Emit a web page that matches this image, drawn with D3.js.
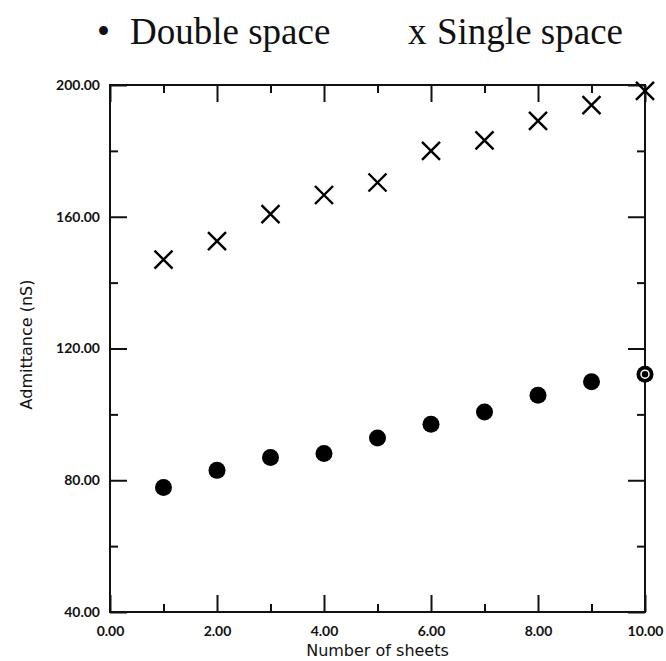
<!DOCTYPE html>
<html>
<head>
<meta charset="utf-8">
<script src="https://cdn.jsdelivr.net/npm/d3@7"></script>
<style>
  html, body { margin: 0; padding: 0; background: #fff; }
  svg { display: block; }
  .tick text { font-family: Lato, "DejaVu Sans", sans-serif; font-weight: 700; font-size: 14px; fill: #111; }
  .tick line { stroke: #111; stroke-width: 2; }
</style>
</head>
<body>
<svg id="chart" width="666" height="661"></svg>
<script>
// Number of sheets on the x axis
const sheets = [1, 2, 3, 4, 5, 6, 7, 8, 9, 10];
// Admittance (nS) for each spacing
const doubleSpace = [77.8, 83.0, 86.9, 88.1, 92.8, 97.0, 100.7, 105.8, 109.9, 112.2];
const singleSpace = [147.0, 152.6, 160.8, 166.6, 170.4, 180.0, 183.2, 189.1, 193.9, 198.2];
// Axis ticks
const xMajorTicks = [0, 2, 4, 6, 8, 10];
const xMinorTicks = [1, 3, 5, 7, 9];
const yMajorTicks = [40, 80, 120, 160, 200];
const yMinorTicks = [60, 100, 140, 180];
const seriesNames = ["Double space", "Single space"];

const svg = d3.select("#chart");
const margin = { left: 110, right: 21, top: 85, bottom: 49 };
const W = 666, H = 661;
const x = d3.scaleLinear().domain([0, 10]).range([margin.left, W - margin.right]);
const y = d3.scaleLinear().domain([40, 200]).range([H - margin.bottom, margin.top]);
const fmt = d3.format(".2f");

function axisGroup(axis, transform) {
  const g = svg.append("g").attr("transform", transform).call(axis);
  g.select(".domain").remove();
  return g;
}

const major = 17, minor = 8;
const bottomY = y(40), topY = y(200), leftX = x(0), rightX = x(10);

// bottom / left axes with labels, ticks pointing inward
axisGroup(d3.axisBottom(x).tickValues(xMajorTicks).tickSizeInner(-major).tickSizeOuter(0).tickPadding(14).tickFormat(fmt), `translate(0,${bottomY})`);
axisGroup(d3.axisBottom(x).tickValues(xMinorTicks).tickSizeInner(-minor).tickSizeOuter(0).tickFormat(""), `translate(0,${bottomY})`);
axisGroup(d3.axisLeft(y).tickValues(yMajorTicks).tickSizeInner(-major).tickSizeOuter(0).tickPadding(10).tickFormat(fmt), `translate(${leftX},0)`);
axisGroup(d3.axisLeft(y).tickValues(yMinorTicks).tickSizeInner(-minor).tickSizeOuter(0).tickFormat(""), `translate(${leftX},0)`);
// top / right mirrored ticks
axisGroup(d3.axisTop(x).tickValues(xMajorTicks).tickSizeInner(-major).tickSizeOuter(0).tickFormat(""), `translate(0,${topY})`);
axisGroup(d3.axisTop(x).tickValues(xMinorTicks).tickSizeInner(-minor).tickSizeOuter(0).tickFormat(""), `translate(0,${topY})`);
axisGroup(d3.axisRight(y).tickValues(yMajorTicks).tickSizeInner(-major).tickSizeOuter(0).tickFormat(""), `translate(${rightX},0)`);
axisGroup(d3.axisRight(y).tickValues(yMinorTicks).tickSizeInner(-minor).tickSizeOuter(0).tickFormat(""), `translate(${rightX},0)`);

// frame
svg.append("rect")
  .attr("x", leftX).attr("y", topY)
  .attr("width", rightX - leftX).attr("height", bottomY - topY)
  .attr("fill", "none").attr("stroke", "#111").attr("stroke-width", 2);

// axis titles
svg.append("text")
  .attr("x", (leftX + rightX) / 2).attr("y", 656)
  .attr("text-anchor", "middle")
  .attr("font-family", "'DejaVu Sans', sans-serif").attr("font-size", 16).attr("fill", "#111")
  .text("Number of sheets");
svg.append("text")
  .attr("transform", `translate(32,${(topY + bottomY) / 2 - 4}) rotate(-90)`)
  .attr("text-anchor", "middle")
  .attr("font-family", "'DejaVu Sans', sans-serif").attr("font-size", 16).attr("fill", "#111")
  .text("Admittance (nS)");

// Double space: filled dots (last one shows a light ring)
const dots = sheets.map((s, i) => ({ s, v: doubleSpace[i], last: i === sheets.length - 1 }));
const dotG = svg.append("g");
dotG.selectAll("circle.dot").data(dots).join("circle")
  .attr("class", "dot")
  .attr("cx", d => x(d.s)).attr("cy", d => y(d.v)).attr("r", 8.5)
  .attr("fill", "#000");
dotG.selectAll("circle.ring").data(dots.filter(d => d.last)).join("circle")
  .attr("class", "ring")
  .attr("cx", d => x(d.s)).attr("cy", d => y(d.v)).attr("r", 4)
  .attr("fill", "none").attr("stroke", "#fff").attr("stroke-width", 1.5);

// Single space: crosses
const crosses = sheets.map((s, i) => ({ s, v: singleSpace[i] }));
const half = 9;
svg.append("g").selectAll("path").data(crosses).join("path")
  .attr("d", d => {
    const cx = x(d.s), cy = y(d.v);
    return `M${cx - half},${cy - half}L${cx + half},${cy + half}M${cx - half},${cy + half}L${cx + half},${cy - half}`;
  })
  .attr("stroke", "#000").attr("stroke-width", 2.4).attr("fill", "none");

// legend
const legend = svg.append("g")
  .attr("font-family", "'Liberation Serif', 'Times New Roman', serif")
  .attr("font-size", 37).attr("fill", "#111");
const legendItems = [
  { sym: "\u2022", symX: 97, label: seriesNames[0], labelX: 130 },
  { sym: "x", symX: 408, label: seriesNames[1], labelX: 437 }
];
legendItems.forEach(it => {
  legend.append("text").attr("x", it.symX).attr("y", 44).text(it.sym);
  legend.append("text").attr("x", it.labelX).attr("y", 44).text(it.label);
});
</script>
</body>
</html>
